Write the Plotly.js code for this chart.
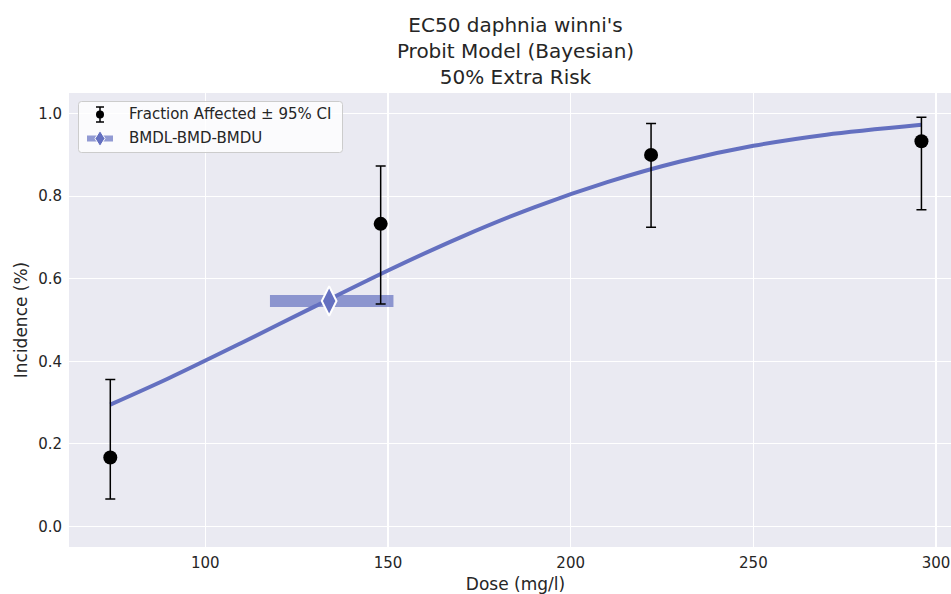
<!DOCTYPE html>
<html>
<head>
<meta charset="utf-8">
<script src="https://cdn.plot.ly/plotly-3.0.1.min.js"></script>
<style>
  html, body { margin: 0; padding: 0; overflow: hidden; background: #ffffff; }
  #chart { width: 962px; height: 594px; }
</style>
</head>
<body>
<div id="chart"></div>
<script>
// Observed dose groups and fraction of animals affected
const doses = [74, 148, 222, 296];
const fractionAffected = [0.167, 0.733, 0.900, 0.933];
const ciLower = [0.066, 0.539, 0.725, 0.767];
const ciUpper = [0.356, 0.873, 0.976, 0.991];

// Fitted probit curve (Bayesian), sampled along the dose range
const curveDose = [74, 90, 110, 130, 150, 170, 190, 210, 230, 250, 270, 296];
const curveIncidence = [0.295, 0.359, 0.445, 0.533, 0.620, 0.701, 0.773, 0.834, 0.884, 0.922, 0.949, 0.973];

// Benchmark dose and its bounds at 50% extra risk
const bmdl = 117.7;
const bmd = 133.9;
const bmdu = 151.5;
const bmdResponse = 0.546;

// Axis ticks
const xTickVals = [100, 150, 200, 250, 300];
const xTickText = ['100', '150', '200', '250', '300'];
const yTickVals = [0, 0.2, 0.4, 0.6, 0.8, 1.0];
const yTickText = ['0.0', '0.2', '0.4', '0.6', '0.8', '1.0'];

const legendLabels = ['Fraction Affected \u00b1 95% CI', 'BMDL-BMD-BMDU'];

const TEXT = '#262626';
const MODEL = '#6470C0';
const MODEL_BAND = 'rgba(100,112,192,0.7)';
const FONT = 'DejaVu Sans, sans-serif';

// Plot-area geometry in pixels (used to place the hand-drawn legend box)
const PLOT = { l: 69, t: 93, w: 893, h: 454 };
const fx = p => (p - PLOT.l) / PLOT.w;
const fy = p => (PLOT.t + PLOT.h - p) / PLOT.h;

const traces = [
  {
    x: [bmdl, bmdu],
    y: [bmdResponse, bmdResponse],
    mode: 'lines',
    line: { color: MODEL_BAND, width: 12 },
    hoverinfo: 'skip',
    showlegend: false
  },
  {
    x: curveDose,
    y: curveIncidence,
    mode: 'lines',
    line: { color: MODEL, width: 4, shape: 'spline', smoothing: 0.8 },
    showlegend: false
  },
  {
    x: doses,
    y: fractionAffected,
    mode: 'markers',
    marker: { color: '#000000', size: 14 },
    error_y: {
      type: 'data',
      symmetric: false,
      array: ciUpper.map((u, i) => u - fractionAffected[i]),
      arrayminus: fractionAffected.map((f, i) => f - ciLower[i]),
      color: '#000000',
      thickness: 1.5,
      width: 5
    },
    showlegend: false
  },
  {
    x: [bmd],
    y: [bmdResponse],
    mode: 'markers',
    marker: { symbol: 'diamond-tall', size: 21, color: MODEL, line: { color: '#ffffff', width: 2 } },
    showlegend: false
  }
];

// Legend box drawn with shapes (rounded rectangle + icons)
function roundedRect(x0, y0, x1, y1, r) {
  const P = (x, y) => fx(x) + ',' + fy(y);
  return 'M' + P(x0 + r, y0) + ' L' + P(x1 - r, y0) + ' Q' + P(x1, y0) + ' ' + P(x1, y0 + r) +
    ' L' + P(x1, y1 - r) + ' Q' + P(x1, y1) + ' ' + P(x1 - r, y1) +
    ' L' + P(x0 + r, y1) + ' Q' + P(x0, y1) + ' ' + P(x0, y1 - r) +
    ' L' + P(x0, y0 + r) + ' Q' + P(x0, y0) + ' ' + P(x0 + r, y0) + ' Z';
}
function diamondPath(cx, cy, hw, hh) {
  const P = (x, y) => fx(x) + ',' + fy(y);
  return 'M' + P(cx, cy - hh) + ' L' + P(cx + hw, cy) + ' L' + P(cx, cy + hh) + ' L' + P(cx - hw, cy) + ' Z';
}

const iconX = 100;
const row1 = 114.5;
const row2 = 138.5;
const paperLine = (x0, y0, x1, y1, color, width) => ({
  type: 'line', xref: 'paper', yref: 'paper',
  x0: fx(x0), y0: fy(y0), x1: fx(x1), y1: fy(y1),
  line: { color: color, width: width }, layer: 'above'
});

const shapes = [
  {
    type: 'path', xref: 'paper', yref: 'paper',
    path: roundedRect(78.5, 101.5, 342.5, 152.5, 3),
    fillcolor: 'rgba(255,255,255,0.8)',
    line: { color: '#cccccc', width: 1 },
    layer: 'above'
  },
  paperLine(iconX, row1 - 7.5, iconX, row1 + 7.5, '#000000', 1.5),
  paperLine(iconX - 4, row1 - 7.5, iconX + 4, row1 - 7.5, '#000000', 1.5),
  paperLine(iconX - 4, row1 + 7.5, iconX + 4, row1 + 7.5, '#000000', 1.5),
  {
    type: 'circle', xref: 'paper', yref: 'paper',
    x0: fx(iconX - 4), x1: fx(iconX + 4), y0: fy(row1 + 4), y1: fy(row1 - 4),
    fillcolor: '#000000', line: { width: 0 }, layer: 'above'
  },
  paperLine(iconX - 13, row2, iconX + 13, row2, MODEL_BAND, 6),
  {
    type: 'path', xref: 'paper', yref: 'paper',
    path: diamondPath(iconX, row2, 5, 8),
    fillcolor: MODEL, line: { color: '#ffffff', width: 1 }, layer: 'above'
  }
];

const annotations = legendLabels.map((t, i) => ({
  text: t,
  xref: 'paper', yref: 'paper',
  x: fx(127), y: fy(i === 0 ? row1 : row2),
  xanchor: 'left', yanchor: 'middle',
  showarrow: false,
  font: { family: FONT, size: 15, color: TEXT }
}));

const layout = {
  width: 962,
  height: 594,
  margin: { l: PLOT.l, r: 962 - PLOT.l - PLOT.w, t: PLOT.t, b: 594 - PLOT.t - PLOT.h, pad: 0 },
  paper_bgcolor: '#ffffff',
  plot_bgcolor: '#EAEAF2',
  font: { family: FONT, color: TEXT, size: 15 },
  title: {
    text: "EC50 daphnia winni's<br>Probit Model (Bayesian)<br>50% Extra Risk",
    font: { family: FONT, size: 20, color: TEXT },
    x: 0.5, xref: 'paper', xanchor: 'center',
    y: 1 - 32 / 594, yref: 'container', yanchor: 'top'
  },
  xaxis: {
    range: [62.7, 307.1],
    tickvals: xTickVals, ticktext: xTickText,
    showgrid: true, gridcolor: '#ffffff', gridwidth: 1.2,
    zeroline: false, showline: false, ticks: '',
    ticklabelstandoff: 5,
    tickfont: { family: FONT, size: 15, color: TEXT },
    title: { text: 'Dose (mg/l)', font: { family: FONT, size: 17, color: TEXT }, standoff: 13 }
  },
  yaxis: {
    range: [-0.05, 1.05],
    tickvals: yTickVals, ticktext: yTickText,
    showgrid: true, gridcolor: '#ffffff', gridwidth: 1.2,
    zeroline: false, showline: false, ticks: '',
    ticklabelstandoff: 6,
    tickfont: { family: FONT, size: 15, color: TEXT },
    title: { text: 'Incidence (%)', font: { family: FONT, size: 17, color: TEXT }, standoff: 6 }
  },
  shapes: shapes,
  annotations: annotations,
  showlegend: false
};

Plotly.newPlot('chart', traces, layout, { displayModeBar: false, staticPlot: true });
</script>
</body>
</html>
